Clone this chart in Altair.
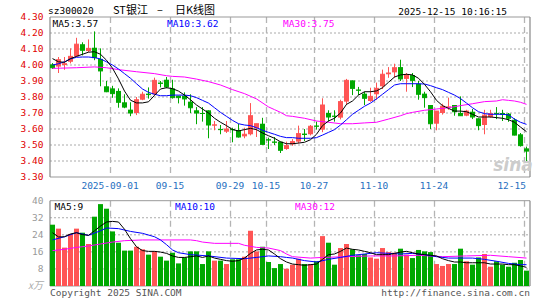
import altair as alt
import pandas as pd

# ---------------- data ----------------
opens = [4.004, 3.990, 4.000, 4.020, 4.054, 4.130, 4.087, 4.108, 4.038, 3.867,
         3.854, 3.838, 3.767, 3.721, 3.700, 3.783, 3.821, 3.817, 3.890, 3.908,
         3.854, 3.808, 3.808, 3.771, 3.717, 3.700, 3.717, 3.621, 3.600, 3.583,
         3.600, 3.592, 3.554, 3.567, 3.604, 3.633, 3.535, 3.521, 3.521, 3.475,
         3.504, 3.521, 3.571, 3.567, 3.621, 3.596, 3.700, 3.683, 3.671, 3.771,
         3.904, 3.846, 3.821, 3.775, 3.817, 3.867, 3.942, 3.954, 3.987, 3.913,
         3.937, 3.883, 3.821, 3.750, 3.633, 3.700, 3.735, 3.750, 3.700, 3.683,
         3.708, 3.667, 3.625, 3.675, 3.700, 3.700, 3.696, 3.658, 3.567, 3.479]
highs = [4.012, 4.050, 4.050, 4.104, 4.170, 4.142, 4.160, 4.210, 4.104, 3.900,
         3.870, 3.854, 3.817, 3.767, 3.800, 3.833, 3.860, 3.921, 3.900, 3.925,
         3.908, 3.808, 3.829, 3.817, 3.737, 3.737, 3.717, 3.650, 3.625, 3.650,
         3.608, 3.633, 3.608, 3.762, 3.633, 3.670, 3.546, 3.550, 3.521, 3.521,
         3.537, 3.621, 3.600, 3.625, 3.646, 3.792, 3.717, 3.717, 3.783, 3.913,
         3.904, 3.863, 3.833, 3.858, 3.890, 3.971, 3.987, 4.008, 4.033, 3.950,
         3.950, 3.900, 3.833, 3.750, 3.712, 3.758, 3.796, 3.750, 3.804, 3.720,
         3.725, 3.667, 3.720, 3.720, 3.737, 3.720, 3.700, 3.667, 3.575, 3.490]
lows = [3.975, 3.950, 3.970, 4.010, 4.050, 4.060, 4.080, 4.030, 3.867, 3.830,
        3.795, 3.733, 3.730, 3.680, 3.687, 3.780, 3.790, 3.810, 3.860, 3.855,
        3.790, 3.760, 3.746, 3.700, 3.630, 3.646, 3.542, 3.592, 3.567, 3.575,
        3.517, 3.546, 3.542, 3.560, 3.550, 3.500, 3.475, 3.500, 3.450, 3.470,
        3.495, 3.510, 3.525, 3.560, 3.596, 3.580, 3.646, 3.646, 3.660, 3.750,
        3.812, 3.812, 3.750, 3.770, 3.783, 3.850, 3.920, 3.920, 3.900, 3.833,
        3.862, 3.783, 3.733, 3.600, 3.592, 3.690, 3.720, 3.683, 3.683, 3.680,
        3.662, 3.592, 3.567, 3.670, 3.662, 3.650, 3.645, 3.560, 3.490, 3.390]
closes = [3.983, 4.033, 4.008, 4.054, 4.130, 4.092, 4.104, 4.046, 3.963, 3.833,
          3.821, 3.767, 3.737, 3.700, 3.783, 3.817, 3.815, 3.904, 3.885, 3.863,
          3.796, 3.796, 3.788, 3.733, 3.700, 3.697, 3.625, 3.626, 3.596, 3.600,
          3.596, 3.550, 3.567, 3.683, 3.633, 3.504, 3.531, 3.517, 3.467, 3.496,
          3.521, 3.571, 3.566, 3.617, 3.617, 3.750, 3.675, 3.679, 3.771, 3.904,
          3.854, 3.842, 3.792, 3.804, 3.854, 3.942, 3.950, 3.983, 3.913, 3.937,
          3.904, 3.817, 3.796, 3.633, 3.712, 3.742, 3.738, 3.708, 3.683, 3.712,
          3.675, 3.621, 3.687, 3.696, 3.696, 3.692, 3.667, 3.562, 3.496, 3.462]
vols = [28.75, 26.9, 18.0, 24.4, 26.9, 25.0, 19.7, 32.5, 38.4, 36.25,
        25.6, 20.3, 16.6, 16.6, 18.4, 17.2, 14.7, 16.25, 13.75, 11.9,
        15.6, 10.6, 13.4, 16.25, 16.25, 10.3, 16.25, 11.9, 11.9, 10.3,
        12.5, 12.5, 13.75, 25.9, 16.25, 18.4, 11.25, 8.4, 10.3, 8.1,
        10.0, 12.8, 10.3, 10.3, 11.6, 23.4, 20.3, 10.0, 17.8, 19.7,
        17.2, 14.4, 15.0, 13.4, 12.8, 17.8, 15.9, 15.6, 17.5, 14.7,
        13.1, 16.9, 16.25, 15.9, 10.3, 9.4, 10.3, 10.3, 17.5, 11.6,
        10.0, 13.4, 15.0, 9.06, 11.6, 10.0, 9.06, 10.9, 12.2, 7.2]

ma5 = [4.040, 4.020, 4.017, 4.040, 4.054, 4.067, 4.080, 4.083, 4.067, 4.030,
       3.980, 3.913, 3.837, 3.780, 3.763, 3.763, 3.770, 3.810, 3.850, 3.858,
       3.852, 3.837, 3.812, 3.783, 3.750, 3.725, 3.700, 3.667, 3.642, 3.621,
       3.596, 3.588, 3.596, 3.604, 3.596, 3.575, 3.558, 3.542, 3.520, 3.508,
       3.508, 3.512, 3.517, 3.533, 3.567, 3.621, 3.650, 3.667, 3.700, 3.754,
       3.775, 3.812, 3.833, 3.833, 3.838, 3.858, 3.892, 3.925, 3.938, 3.942,
       3.938, 3.917, 3.879, 3.833, 3.779, 3.746, 3.729, 3.712, 3.712, 3.708,
       3.692, 3.675, 3.675, 3.675, 3.671, 3.667, 3.658, 3.642, 3.612, 3.583]
ma10 = [4.000, 4.008, 4.020, 4.038, 4.048, 4.050, 4.050, 4.046, 4.038, 4.020,
        4.000, 3.975, 3.946, 3.917, 3.883, 3.850, 3.829, 3.817, 3.808, 3.808,
        3.812, 3.812, 3.812, 3.808, 3.796, 3.779, 3.762, 3.733, 3.704, 3.679,
        3.654, 3.633, 3.625, 3.621, 3.608, 3.592, 3.579, 3.567, 3.554, 3.546,
        3.546, 3.542, 3.542, 3.542, 3.546, 3.562, 3.579, 3.596, 3.625, 3.658,
        3.692, 3.717, 3.742, 3.762, 3.788, 3.817, 3.846, 3.875, 3.883, 3.883,
        3.883, 3.883, 3.881, 3.871, 3.858, 3.846, 3.829, 3.812, 3.790, 3.762,
        3.733, 3.708, 3.696, 3.692, 3.692, 3.692, 3.688, 3.662, 3.642, 3.629]
ma30_idx = [1, 5, 8, 10, 12, 15, 18, 20, 21, 23, 25, 27, 29, 31, 33, 35, 37, 38, 39, 40,
            41, 43, 45, 47, 49, 51, 53, 55, 57, 59, 60, 61, 63, 65, 67, 69, 71, 73, 75,
            76, 77, 78, 79, 80]
ma30_val = [3.979, 3.983, 3.988, 3.983, 3.971, 3.958, 3.946, 3.933, 3.929, 3.925, 3.912,
            3.896, 3.875, 3.846, 3.821, 3.788, 3.738, 3.721, 3.704, 3.683, 3.679, 3.667,
            3.650, 3.642, 3.633, 3.633, 3.638, 3.642, 3.662, 3.683, 3.696, 3.704, 3.717,
            3.725, 3.733, 3.746, 3.758, 3.771, 3.775, 3.783, 3.779, 3.775, 3.767, 3.754]

vma5 = [25.0, 23.0, 23.1, 24.4, 25.0, 24.1, 23.75, 25.9, 28.1, 30.0,
        30.3, 30.0, 26.6, 22.2, 18.4, 16.6, 16.25, 16.25, 15.9, 15.3,
        14.1, 13.4, 13.4, 13.75, 14.1, 13.4, 14.1, 13.1, 12.5, 11.9,
        11.6, 11.9, 13.1, 15.3, 16.9, 17.2, 16.9, 15.0, 12.8, 11.25,
        10.3, 10.0, 9.7, 10.0, 10.3, 12.5, 14.7, 15.0, 16.25, 17.8,
        17.2, 16.9, 16.25, 15.6, 14.7, 14.7, 14.7, 15.3, 15.9, 16.25,
        15.6, 15.0, 14.7, 14.4, 14.1, 12.8, 11.9, 11.25, 11.25, 10.9,
        10.9, 10.9, 10.9, 10.3, 10.3, 10.3, 10.0, 10.0, 9.4, 8.75]
vma10_idx = [1, 3, 5, 7, 9, 10, 12, 14, 16, 18, 19, 20, 21, 22, 24, 27, 30, 33, 35, 37,
             39, 40, 41, 43, 45, 47, 49, 51, 53, 55, 57, 59, 61, 63, 65, 67, 69, 71, 73,
             75, 77, 79, 80]
vma10_val = [21.6, 23.1, 25.0, 23.75, 25.9, 27.2, 26.9, 25.6, 24.7, 23.1, 21.6, 19.4, 16.9,
             15.6, 14.7, 14.1, 13.1, 12.8, 13.4, 14.1, 13.75, 13.4, 13.1, 11.9, 11.25, 12.5,
             13.4, 14.4, 15.0, 15.6, 15.3, 15.0, 15.3, 14.7, 13.75, 13.1, 13.1, 13.1, 12.5,
             11.6, 10.6, 10.0, 10.0]
vma30_idx = [1, 3, 5, 7, 9, 11, 13, 16, 24, 25, 26, 28, 32, 33, 35, 37, 39, 40, 41, 44,
             46, 50, 54, 58, 62, 66, 70, 74, 77, 80]
vma30_val = [16.6, 17.2, 18.1, 18.75, 19.7, 20.6, 21.25, 21.6, 21.6, 21.25, 20.6, 20.0,
             20.0, 19.1, 18.1, 17.8, 16.6, 15.0, 13.75, 13.1, 13.4, 13.75, 14.1, 14.1,
             14.4, 13.75, 14.1, 14.4, 13.75, 13.1]

price_ticks = [4.30, 4.20, 4.10, 4.00, 3.90, 3.80, 3.70, 3.60, 3.50, 3.40, 3.30]
price_labels = ["4.30", "4.20", "4.10", "4.00", "3.90", "3.80", "3.70", "3.60", "3.50", "3.40", "3.30"]
vol_ticks = [40, 32, 24, 16, 8]
vol_labels = ["40", "32", "24", "16", "8"]
date_pos = [11, 21, 31, 37, 45, 55, 65, 80]          # candle number (1-based)
date_labels = ["2025-09-01", "09-15", "09-29", "10-15", "10-27", "11-10", "11-24", "12-15"]

# ---------------- layout / style ----------------
N = len(closes)
W, H = 480, 270
HALF = 2.5 / 6.0
RED, GREEN = "#ff5555", "#00a800"
GRID, FRAME = "#aaaaaa", "#999999"
MONO = "DejaVu Sans Mono"
CJK = "Noto Sans CJK SC"

xs = alt.Scale(domain=[-HALF, N - HALF], range=[0, W], nice=False, zero=False)
ps = alt.Scale(domain=[3.3, 4.3], range=[160, 0], nice=False, zero=False)
vs = alt.Scale(domain=[0, 40], range=[269, 183.7], nice=False, zero=False)


def X(f):
    return alt.X(f, type="quantitative", scale=xs, axis=None)


def PY(f):
    return alt.Y(f, type="quantitative", scale=ps, axis=None)


def VY(f):
    return alt.Y(f, type="quantitative", scale=vs, axis=None)


df = pd.DataFrame({"i": list(range(N)), "o": opens, "h": highs, "l": lows,
                   "c": closes, "v": vols, "z": [0] * N})
updown = alt.condition("datum.c >= datum.o", alt.value(RED), alt.value(GREEN))
base = alt.Chart(df).transform_calculate(xl=f"datum.i - {HALF}", xr=f"datum.i + {HALF}")

layers = []

# grid lines
layers.append(alt.Chart(pd.DataFrame({"p": price_ticks[1:-1]})).mark_rule(
    color=GRID, strokeDash=[2, 2], strokeWidth=1).encode(
    y=PY("p"), x=alt.value(0), x2=alt.value(W)))
layers.append(alt.Chart(pd.DataFrame({"v": vol_ticks[1:]})).mark_rule(
    color=GRID, strokeDash=[2, 2], strokeWidth=1).encode(
    y=VY("v"), x=alt.value(0), x2=alt.value(W)))

# vertical dashed date lines
dl = pd.DataFrame({"k": date_pos, "top": [4.3] * len(date_pos), "bot": [3.3] * len(date_pos),
                   "vt": [40] * len(date_pos), "vb": [0] * len(date_pos)})
dbase = alt.Chart(dl).transform_calculate(xv=f"datum.k - 1 - {HALF} + 0.0833")
layers.append(dbase.mark_rule(color="#b4b4b4", strokeDash=[6, 4], strokeWidth=1.3).encode(
    x=X("xv"), y=PY("top"), y2=alt.Y2("bot")))
layers.append(dbase.mark_rule(color="#b4b4b4", strokeDash=[6, 4], strokeWidth=1.3).encode(
    x=X("xv"), y=VY("vt"), y2=alt.Y2("vb")))

# frames
layers.append(alt.Chart(pd.DataFrame({"p": [4.3, 3.3]})).mark_rule(color=FRAME).encode(
    y=PY("p"), x=alt.value(0), x2=alt.value(W)))
layers.append(alt.Chart(pd.DataFrame({"v": [40, 0]})).mark_rule(color=FRAME).encode(
    y=VY("v"), x=alt.value(0), x2=alt.value(W)))
fr = pd.DataFrame({"x": [-HALF, N - HALF], "top": [4.3, 4.3], "bot": [3.3, 3.3],
                   "vt": [40, 40], "vb": [0, 0]})
layers.append(alt.Chart(fr).mark_rule(color="#888888", strokeWidth=1.2).encode(
    x=X("x"), y=PY("top"), y2=alt.Y2("bot")))
layers.append(alt.Chart(fr).mark_rule(color="#888888", strokeWidth=1.2).encode(
    x=X("x"), y=VY("vt"), y2=alt.Y2("vb")))

# candles
layers.append(base.mark_rule(strokeWidth=1).encode(x=X("i"), y=PY("l"), y2=alt.Y2("h"), color=updown))
layers.append(base.mark_bar(strokeWidth=0).encode(x=X("xl"), x2=alt.X2("xr"), y=PY("o"),
                                                  y2=alt.Y2("c"), color=updown))
layers.append(base.mark_rule(strokeWidth=1).encode(x=X("xl"), x2=alt.X2("xr"), y=PY("c"), color=updown))

# volume bars
layers.append(base.mark_bar(strokeWidth=0).encode(x=X("xl"), x2=alt.X2("xr"), y=VY("v"),
                                                  y2=alt.Y2("z"), color=updown))


def line(idx, vals, color, yfun):
    d = pd.DataFrame({"i": [k - 1 for k in idx], "m": vals})
    return alt.Chart(d).mark_line(color=color, strokeWidth=1).encode(x=X("i"), y=yfun("m"))


allk = list(range(1, N + 1))
layers.append(line(ma30_idx, ma30_val, "#ff00ff", PY))
layers.append(line(allk, ma10, "#0000ff", PY))
layers.append(line(allk, ma5, "#000000", PY))
layers.append(line(vma30_idx, vma30_val, "#ff00ff", VY))
layers.append(line(vma10_idx, vma10_val, "#0000ff", VY))
layers.append(line(allk, vma5, "#000000", VY))

# axis labels
layers.append(alt.Chart(pd.DataFrame({"p": price_ticks, "t": price_labels})).mark_text(
    align="right", baseline="middle", font=MONO, fontSize=9.5, color="#e00000").encode(
    y=PY("p"), x=alt.value(-6.5), text="t:N"))
layers.append(alt.Chart(pd.DataFrame({"v": vol_ticks, "t": vol_labels})).mark_text(
    align="right", baseline="middle", font=MONO, fontSize=9.5, color="#999999").encode(
    y=VY("v"), x=alt.value(-6.5), text="t:N"))

dd = pd.DataFrame({"k": date_pos[:-1], "t": date_labels[:-1]})
layers.append(alt.Chart(dd).transform_calculate(xv=f"datum.k - 1 - {HALF}").mark_text(
    align="center", baseline="middle", font=MONO, fontSize=9.5, color="#1f6fc0").encode(
    x=X("xv"), y=alt.value(168.5), text="t:N"))
dd2 = pd.DataFrame({"k": date_pos[-1:], "t": date_labels[-1:]})
layers.append(alt.Chart(dd2).transform_calculate(xv=f"datum.k - 1 - {HALF}").mark_text(
    align="right", baseline="middle", font=MONO, fontSize=9.5, color="#1f6fc0", dx=2).encode(
    x=X("xv"), y=alt.value(168.5), text="t:N"))


def txt(s, x, y, color="#000000", size=9.5, align="left", font=MONO, **kw):
    return alt.Chart(pd.DataFrame({"t": [s]})).mark_text(
        align=align, baseline="middle", font=font, fontSize=size, color=color, **kw).encode(
        x=alt.value(x), y=alt.value(y), text="t:N")


layers += [
    txt("sz300020", -2, -6.5),
    txt("ST银江", 63, -6.5, size=11, font=CJK),
    txt("–", 110, -6.5, size=11, font=CJK, align="center"),
    txt("日K线图", 125, -6.5, size=11, font=CJK),
    txt("2025-12-15 10:16:15", 457, -5.5, align="right"),
    txt("MA5:3.57", 2.5, 6.5),
    txt("MA10:3.62", 117, 6.5, color="#0000ff"),
    txt("MA30:3.75", 233, 6.5, color="#ff00ff"),
    txt("MA5:9", 4.5, 189.5),
    txt("MA10:10", 125, 189.5, color="#0000ff"),
    txt("MA30:12", 245, 189.5, color="#ff00ff"),
    txt("x万", -7, 269, color="#aaaaaa", size=10, align="right", font=CJK, fontStyle="italic"),
    txt("Copyright 2025 SINA.COM", 0, 275.5, color="#555555"),
    txt("http://finance.sina.com.cn", 480, 275.5, color="#555555", align="right"),
    txt("sina", 463, 149, color="#cccccc", size=17, font="DejaVu Sans", fontStyle="italic",
        fontWeight="bold", align="center"),
]

chart = alt.layer(*layers).resolve_scale(y="independent").properties(
    width=W, height=H,
    autosize=alt.AutoSizeParams(type="none"),
    padding={"left": 50, "top": 17, "right": 15, "bottom": 13},
).configure_view(stroke=None)

chart.save("out.html", embed_options={"renderer": "svg", "actions": False})
